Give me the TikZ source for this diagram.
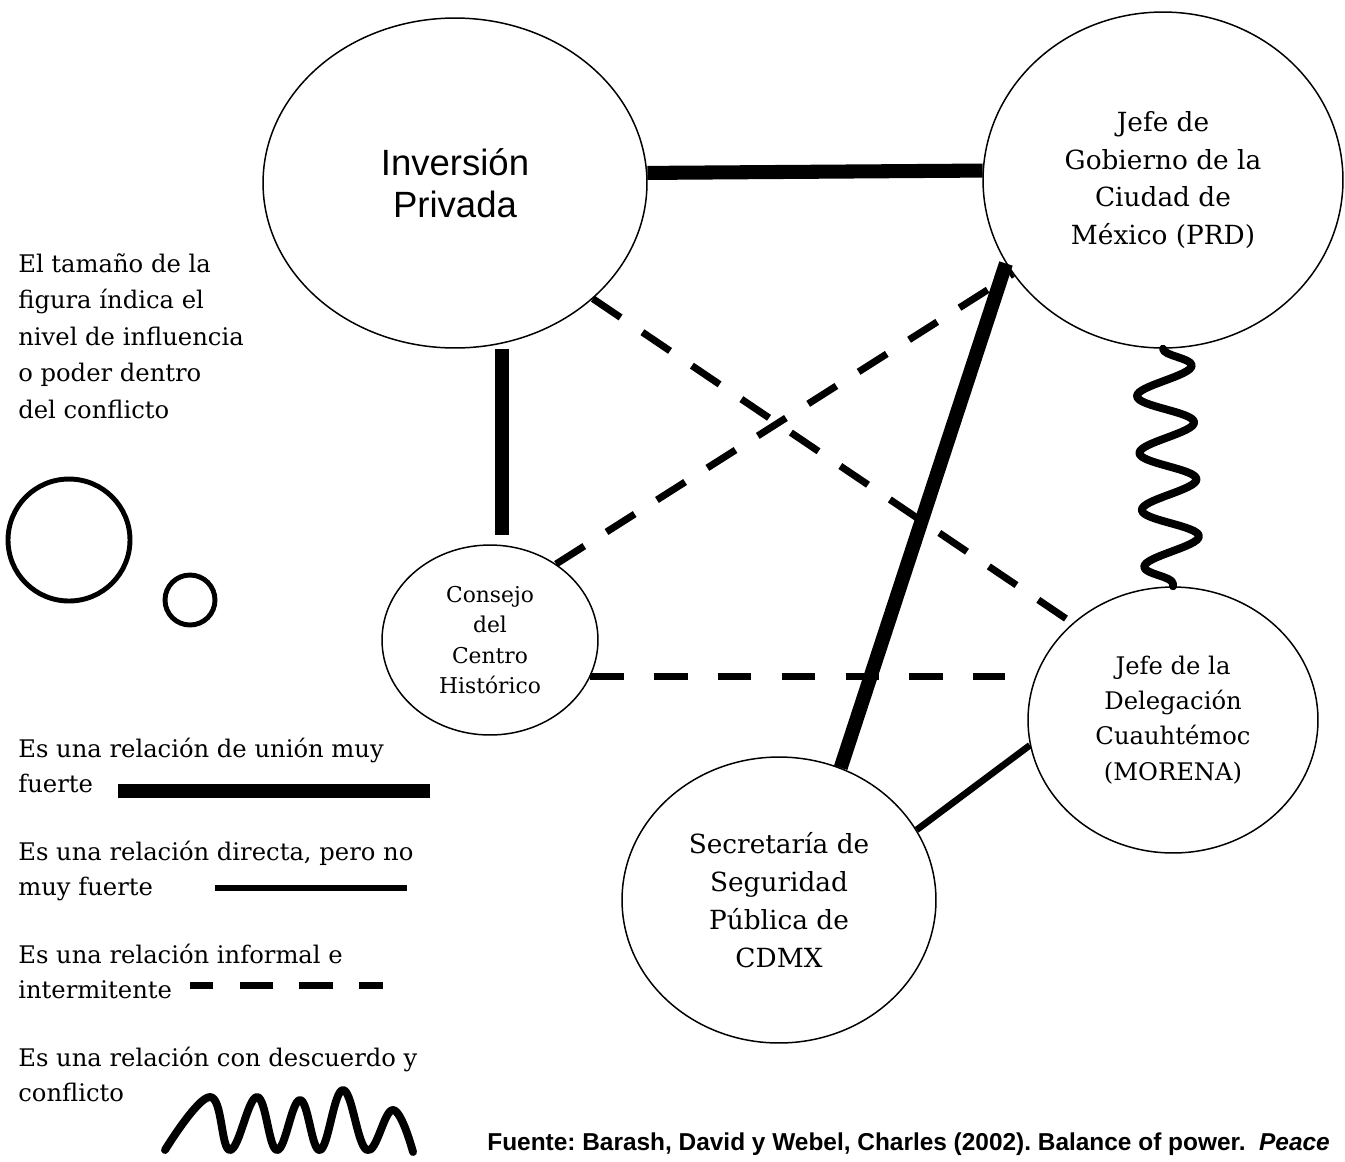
\documentclass[tikz,border=0pt]{standalone}
\usepackage{fontspec}
\setmainfont{DejaVu Serif}
\newfontfamily\arialfont{Liberation Sans}
\usetikzlibrary{shapes.geometric, decorations.pathmorphing}
\frenchspacing

\begin{document}
\begin{tikzpicture}[x=0.02cm, y=-0.02cm,
		actor/.style={ellipse, draw, line width=0.85pt, inner sep=0pt, align=center, font=\fontsize{15}{21.5}\selectfont},
		fuerte/.style={line width=8pt},
		directa/.style={line width=3.8pt},
		informal/.style={line width=4pt, dash pattern=on 19pt off 15pt},
		conflicto/.style={line width=4.5pt, line cap=round, line join=round},
		leyenda/.style={anchor=base west, inner sep=0pt, font=\fontsize{13.8}{20.8}\selectfont}]
		\useasboundingbox (0,0) rectangle (1345,1161);
		
		% actores
		\node[actor, minimum width=7.68cm, minimum height=6.6cm, font=\arialfont\fontsize{20.8}{24}\selectfont] (inv) at (455,183) {Inversión\\Privada};
		\node[actor, minimum width=7.2cm, minimum height=6.72cm] (gob) at (1163,180) {Jefe de\\Gobierno de la\\Ciudad de\\México (PRD)};
		\node[actor, minimum width=4.32cm, minimum height=3.8cm, font=\fontsize{12.4}{17.4}\selectfont] (cons) at (490,640) {Consejo\\del\\Centro\\Histórico};
		\node[actor, minimum width=5.8cm, minimum height=5.32cm, font=\fontsize{13.8}{20}\selectfont] (del) at (1173,720) {Jefe de la\\Delegación\\Cuauhtémoc\\(MORENA)};
		\node[actor, minimum width=6.28cm, minimum height=5.72cm] (sec) at (779,900) {Secretaría de\\Seguridad\\Pública de\\CDMX};
		
		% relaciones
		\draw[fuerte] (inv.3) -- (gob.177);
		\draw[fuerte, shorten >=0.2cm] (cons.83 |- inv.south) -- (cons.83);
		\draw[fuerte] (gob.208) -- (sec.65);
		\draw[informal] (inv.320) -- (del.136);
		\draw[informal] (cons.49) -- (gob.212);
		\draw[informal, shorten >=0.44cm, dash pattern=on 19pt off 17.3pt] (cons.340) -- (cons.340 -| del.west);
		\draw[directa] (sec.27) -- (del.190);
		\draw[conflicto, decorate, decoration={snake, amplitude=0.56cm, segment length=1.14cm}] (gob.south) -- (del.north);
		
		% leyenda
		\foreach \y/\t [count=\i] in {272/El tamaño de la, 308.5/figura índica el, 345/nivel de influencia, 381.5/o poder dentro, 418/del conflicto, 757/Es una relación de unión muy, 792/fuerte, 860/{Es una relación directa, pero no}, 895/muy fuerte, 963/Es una relación informal e, 998/intermitente, 1066/Es una relación con descuerdo y, 1101/conflicto}
		\node[leyenda] (ley\i) at (18,\y) {\t};
		\draw[line width=2.8pt] (69,540) circle[radius=1.22cm];
		\draw[line width=2.8pt] (190,600) circle[radius=0.5cm];
		\draw[fuerte] (118,791) -- (430,791);
		\draw[directa] (215,888) -- (407,888);
		\draw[informal, dash phase=5.7pt] (190,985) -- (383,985);
		\draw[conflicto] plot[smooth, tension=0.7] coordinates {(165,1150) (210,1097) (230,1150) (257,1097) (277,1150) (300,1100) (320,1150) (343,1090) (367,1150) (393,1110) (413,1152)};
		
		\node[anchor=base west, inner sep=0pt, font=\arialfont\bfseries\fontsize{13.9}{16}\selectfont] (fuente) at (487,1150) {Fuente: Barash, David y Webel, Charles (2002). Balance of power.~ \textit{Peace}};
	\end{tikzpicture}
\end{document}
